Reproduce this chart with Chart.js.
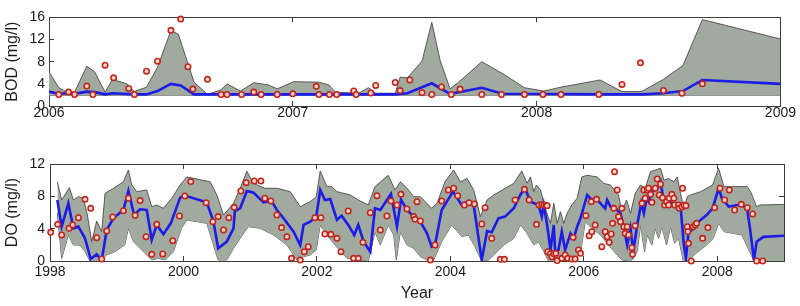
<!DOCTYPE html>
<html><head><meta charset="utf-8">
<script src="https://cdn.jsdelivr.net/npm/chart.js@4.4.0/dist/chart.umd.min.js"></script>
<style>
html,body{margin:0;padding:0;background:#fff;}
#wrap{position:relative;width:800px;height:306px;overflow:hidden;background:#fff;}
#c1{position:absolute;left:0;top:0;}
#c2{position:absolute;left:0;top:140px;}
</style></head><body>
<div id="wrap"><canvas id="c1" width="800" height="130"></canvas><canvas id="c2" width="800" height="166"></canvas></div>
<script>
// ---------- BOD panel (2006-2009) ----------
const bodXTicks = [2006, 2007, 2008, 2009];
const bodYTicks = [0, 4, 8, 12, 16];
const bodUpperYears = [2006.00,2006.04,2006.07,2006.105,2006.155,2006.187,2006.23,2006.26,2006.32,2006.35,2006.40,2006.445,2006.50,2006.53,2006.595,2006.65,2006.705,2006.73,2006.785,2006.84,2006.90,2006.936,2007.005,2007.107,2007.148,2007.175,2007.27,2007.31,2007.34,2007.42,2007.44,2007.47,2007.53,2007.57,2007.605,2007.645,2007.68,2007.775,2007.87,2007.95,2008.03,2008.10,2008.26,2008.35,2008.43,2008.52,2008.60,2008.68,2009.00];
const bodUpper = [6.2,3.3,2.6,2.5,7.2,6.2,2.5,4.8,4.0,2.6,3.4,7.0,13.6,13.0,4.3,2.1,2.9,4.0,2.7,4.2,3.8,3.1,4.4,4.3,3.8,2.5,2.3,3.3,2.3,2.3,5.2,5.1,8.1,15.1,8.1,3.1,4.3,8.0,5.6,3.3,2.7,3.4,4.7,2.6,2.6,4.8,7.3,15.6,12.1];
const bodLowerYears = [2006.00, 2009.00];
const bodLower = [1.95, 1.95];
const bodMedianYears = [2006.00,2006.04,2006.07,2006.105,2006.155,2006.187,2006.23,2006.26,2006.35,2006.40,2006.445,2006.50,2006.54,2006.595,2007.42,2007.47,2007.57,2007.645,2007.775,2007.86,2008.30,2008.43,2008.52,2008.60,2008.68,2009.00];
const bodMedian = [2.6,2.2,2.3,2.2,2.6,2.5,2.1,2.3,2.1,2.1,2.7,4.0,3.7,2.1,2.1,2.3,4.1,2.2,3.3,2.2,2.1,2.1,2.3,2.7,4.7,4.0];
const bodObsYears = [2006.04,2006.08,2006.105,2006.155,2006.18,2006.23,2006.265,2006.327,2006.35,2006.40,2006.445,2006.50,2006.54,2006.57,2006.59,2006.65,2006.706,2006.73,2006.79,2006.84,2006.87,2006.936,2007.00,2007.096,2007.107,2007.15,2007.18,2007.25,2007.26,2007.32,2007.34,2007.42,2007.44,2007.48,2007.53,2007.57,2007.61,2007.65,2007.686,2007.775,2007.856,2007.95,2008.026,2008.10,2008.255,2008.35,2008.426,2008.52,2008.596,2008.68];
const bodObs = [2.08,2.51,2.08,3.6,2.08,7.38,5.08,3.17,2.08,6.28,8.09,13.66,15.7,7.1,3.06,4.81,2.08,2.08,2.08,2.51,2.08,2.08,2.19,3.55,2.08,2.08,2.08,2.73,2.08,2.35,3.72,4.26,2.79,4.7,2.4,2.08,3.44,2.08,3.06,2.08,2.08,2.08,2.08,2.08,2.08,3.9,7.8,2.8,2.3,4.0];

// ---------- DO panel (1998-2009) ----------
const doXTicks = [1998, 2000, 2002, 2004, 2006, 2008];
const doYTicks = [0, 4, 8, 12];
const doMedianYears = [1998.11,1998.175,1998.275,1998.35,1998.425,1998.525,1998.61,1998.70,1998.775,1998.85,1998.95,1999.10,1999.175,1999.26,1999.35,1999.45,1999.525,1999.60,1999.70,1999.81,1999.95,2000.02,2000.35,2000.45,2000.52,2000.65,2000.75,2000.77,2000.85,2000.95,2001.05,2001.20,2001.32,2001.40,2001.52,2001.65,2001.75,2001.80,2001.90,2001.99,2002.05,2002.12,2002.20,2002.30,2002.37,2002.47,2002.56,2002.62,2002.70,2002.80,2002.87,2002.95,2003.11,2003.20,2003.26,2003.35,2003.45,2003.55,2003.65,2003.72,2003.77,2003.87,2004.04,2004.17,2004.27,2004.35,2004.47,2004.55,2004.62,2004.72,2004.82,2004.95,2005.05,2005.12,2005.20,2005.32,2005.37,2005.40,2005.45,2005.50,2005.55,2005.57,2005.62,2005.67,2005.72,2005.80,2005.85,2005.90,2005.95,2006.05,2006.12,2006.19,2006.25,2006.32,2006.35,2006.40,2006.47,2006.55,2006.60,2006.65,2006.70,2006.74,2006.80,2006.86,2006.90,2006.94,2006.97,2007.02,2007.10,2007.15,2007.19,2007.25,2007.35,2007.45,2007.50,2007.53,2007.57,2007.62,2007.69,2007.84,2007.93,2008.02,2008.07,2008.17,2008.37,2008.45,2008.49,2008.55,2008.59,2008.69,2009.00];
const doMedian = [7.55,4.25,7.14,4.04,4.25,2.8,0.25,0.83,0.12,3.84,5.28,6.31,8.7,5.69,6.4,6.31,2.6,4.46,3.3,4.66,7.84,8.09,7.26,4.87,1.57,2.4,4.04,6.19,6.52,8.66,8.46,7.26,7.43,6.31,5.07,3.63,1.98,4.46,4.87,5.49,8.79,7.55,7.67,5.07,5.61,4.46,3.22,4.46,2.39,1.15,6.52,6.31,8.3,4.25,7.6,6.31,5.49,4.87,3.42,1.77,1.98,6.31,8.58,6.93,7.43,6.93,0.12,3.71,3.55,5.28,5.49,6.52,8.2,9.0,7.34,6.93,5.49,6.93,4.46,1.36,4.46,1.15,1.36,3.63,1.36,3.42,2.8,4.25,5.28,8.17,7.55,7.76,7.14,6.52,7.55,6.72,6.52,5.9,4.04,1.98,4.04,1.15,4.46,7.14,5.9,7.76,7.34,8.58,9.0,9.82,7.76,7.34,7.14,6.72,1.98,0.33,3.63,3.84,4.66,5.69,6.52,9.0,7.76,6.72,7.02,6.31,4.04,0.12,2.39,2.99,3.13];
const doUpperYears = [1998.11,1998.175,1998.29,1998.35,1998.43,1998.50,1998.56,1998.625,1998.70,1998.775,1998.825,1998.95,1999.10,1999.175,1999.225,1999.30,1999.45,1999.525,1999.60,1999.70,1999.825,1999.95,2000.05,2000.40,2000.50,2000.60,2000.75,2000.85,2000.95,2001.05,2001.22,2001.40,2001.60,2001.75,2001.90,2001.99,2002.05,2002.15,2002.22,2002.30,2002.50,2002.62,2002.77,2002.87,2003.07,2003.17,2003.25,2003.35,2003.45,2003.55,2003.72,2003.80,2003.92,2004.05,2004.15,2004.25,2004.35,2004.45,2004.55,2004.65,2004.95,2005.07,2005.15,2005.20,2005.25,2005.29,2005.35,2005.43,2005.50,2005.55,2005.60,2005.65,2005.70,2005.75,2005.82,2005.90,2005.97,2006.05,2006.20,2006.30,2006.40,2006.52,2006.57,2006.64,2006.70,2006.77,2006.85,2006.92,2007.00,2007.15,2007.20,2007.27,2007.35,2007.40,2007.45,2007.50,2007.55,2007.60,2007.75,2007.93,2008.02,2008.10,2008.45,2008.50,2008.59,2008.64,2009.00];
const doUpper = [9.8,7.55,9.07,7.55,7.96,7.76,5.69,2.39,4.95,3.63,8.37,8.99,9.8,11.26,9.4,8.58,8.79,6.72,6.93,6.52,7.76,9.4,10.4,9.8,8.17,5.69,7.14,8.99,11.1,9.6,9.0,9.0,8.58,6.72,7.34,7.96,11.14,9.2,9.2,8.58,8.17,7.55,6.93,9.2,10.6,8.79,9.8,9.0,7.96,7.96,6.52,7.14,9.8,11.26,9.8,10.2,8.79,5.49,7.55,8.17,9.6,11.14,9.6,10.4,8.58,9.4,8.79,6.31,4.66,7.14,4.66,6.1,4.66,5.9,6.93,7.76,10.4,10.6,10.4,9.6,9.4,8.17,6.1,7.55,5.9,8.37,9.4,9.0,11.05,11.47,10.0,10.2,9.8,10.4,8.37,6.31,7.96,8.17,8.58,9.4,11.47,9.2,9.2,8.58,6.72,6.93,7.0];
const doLowerYears = [1998.11,1998.175,1998.275,1998.35,1998.45,1998.525,1998.60,1998.75,1998.85,1998.97,1999.12,1999.175,1999.25,1999.45,1999.525,1999.625,1999.725,1999.85,1999.97,2000.05,2000.35,2000.45,2000.52,2000.65,2000.75,2000.85,2000.97,2001.15,2001.35,2001.55,2001.70,2001.80,2001.90,2001.99,2002.05,2002.15,2002.27,2002.45,2002.65,2002.77,2002.87,2002.95,2003.07,2003.15,2003.19,2003.25,2003.35,2003.45,2003.55,2003.65,2003.75,2003.87,2004.02,2004.17,2004.27,2004.37,2004.47,2004.57,2004.65,2004.80,2004.95,2005.05,2005.15,2005.25,2005.32,2005.40,2005.47,2005.85,2005.95,2006.02,2006.12,2006.25,2006.37,2006.50,2006.57,2006.70,2006.80,2006.85,2006.91,2006.95,2007.02,2007.07,2007.12,2007.17,2007.24,2007.30,2007.36,2007.42,2007.49,2007.57,2007.65,2007.84,2007.94,2008.02,2008.10,2008.37,2008.55,2009.00];
const doLower = [6.0,0.33,3.22,1.98,1.98,1.15,0,0,0.74,1.15,1.98,4.04,2.39,0.74,0.12,0.33,0.12,1.15,4.04,5.07,4.66,1.98,0.12,0.12,1.57,2.8,4.25,4.04,3.22,1.98,0.12,0.54,0.74,1.36,4.46,3.22,1.98,0.33,0.12,0,3.63,1.98,4.46,3.22,0.12,3.63,1.98,1.57,0.54,0.12,0.12,2.39,4.46,3.01,3.22,1.77,0,0.12,0.74,1.98,2.8,4.46,3.42,1.98,2.39,1.15,0,0.12,0.95,4.87,4.04,3.22,1.98,0.74,0.12,0,1.15,4.46,1.15,3.22,1.98,4.04,2.8,4.25,1.98,4.25,2.19,2.8,0,0,0.74,1.98,2.8,4.66,3.63,3.22,0,0];
const doObsYears = [1998.01,1998.115,1998.175,1998.285,1998.34,1998.425,1998.525,1998.61,1998.70,1998.775,1998.85,1998.94,1999.10,1999.175,1999.275,1999.35,1999.44,1999.525,1999.60,1999.69,1999.84,1999.94,2000.02,2000.11,2000.34,2000.44,2000.52,2000.60,2000.68,2000.76,2000.86,2000.94,2001.06,2001.16,2001.22,2001.31,2001.40,2001.47,2001.55,2001.62,2001.75,2001.81,2001.87,2001.97,2002.06,2002.12,2002.21,2002.30,2002.36,2002.47,2002.55,2002.62,2002.69,2002.80,2002.90,2002.95,2003.05,2003.11,2003.20,2003.26,2003.35,2003.45,2003.47,2003.50,2003.55,2003.70,2003.77,2003.87,2003.97,2004.05,2004.11,2004.21,2004.28,2004.36,2004.47,2004.52,2004.62,2004.75,2004.81,2004.97,2005.11,2005.18,2005.29,2005.33,2005.37,2005.40,2005.43,2005.45,2005.46,2005.50,2005.52,2005.55,2005.58,2005.60,2005.67,2005.72,2005.76,2005.82,2005.84,2005.87,2005.92,2005.95,2006.03,2006.08,2006.11,2006.12,2006.17,2006.19,2006.27,2006.32,2006.35,2006.38,2006.41,2006.43,2006.45,2006.46,2006.50,2006.52,2006.55,2006.57,2006.60,2006.62,2006.65,2006.67,2006.72,2006.73,2006.77,2006.87,2006.90,2006.92,2006.95,2006.97,2007.00,2007.02,2007.07,2007.10,2007.13,2007.15,2007.18,2007.21,2007.24,2007.27,2007.28,2007.32,2007.35,2007.36,2007.42,2007.43,2007.47,2007.48,2007.50,2007.53,2007.55,2007.56,2007.57,2007.61,2007.64,2007.67,2007.69,2007.78,2007.86,2007.96,2008.04,2008.11,2008.18,2008.26,2008.36,2008.45,2008.53,2008.59,2008.68];
const doObs = [3.55,4.54,3.22,4.04,4.46,5.36,7.63,6.52,2.89,0.25,3.71,5.45,6.23,7.76,5.65,7.47,3.01,0.82,4.54,0.87,2.52,5.57,8.04,9.82,7.22,4.87,5.49,3.84,5.36,6.64,8.66,9.69,9.9,9.9,7.76,7.43,5.69,4.13,3.01,0.33,0.12,1.15,1.77,5.36,5.36,3.34,3.3,2.8,1.15,6.19,0.33,0.33,2.31,5.98,8.08,3.84,5.57,7.43,6.93,8.25,6.44,5.49,5.16,7.34,4.95,0.12,1.98,7.43,8.79,9.0,8.08,6.93,7.22,7.05,4.58,6.6,2.8,0.21,0.21,7.55,8.87,7.55,4.54,6.93,6.97,6.93,6.9,6.85,1.15,0.9,0.54,0.9,0.95,0.05,0.33,0.74,0.33,0.25,2.93,0.25,1.36,0.95,5.61,3.13,7.34,3.63,4.46,7.63,1.77,3.63,3.01,2.31,3.34,4.66,6.52,11.05,8.79,5.49,4.87,6.52,4.25,3.42,4.25,3.22,1.65,0.82,4.37,7.14,8.79,7.76,8.79,9.0,8.25,7.26,9.0,10.15,8.17,9.5,7.84,6.93,7.34,6.93,7.76,8.25,7.76,6.93,6.93,6.52,6.72,9.0,6.93,6.85,4.25,3.63,2.19,0.0,4.25,4.46,4.66,2.8,4.13,6.6,9.0,7.55,8.79,6.31,7.01,6.6,5.82,0.0,0.0];

// ---------- drawing ----------
const FONT = "'Liberation Sans', Arial, Helvetica, sans-serif";
const AXIS = '#3c3c3c';
const TXT = '#1a1a1a';
const pts = (xs, ys) => xs.map((x, i) => ({x: x, y: ys[i]}));

function xScale(c, pos) {
  const bottom = pos === 'bottom';
  return {
    type: 'linear', position: pos, min: c.xMin, max: c.xMax,
    afterBuildTicks: s => { s.ticks = c.xTicks.map(v => ({value: v})); },
    afterFit: s => { s.height = bottom ? c.xAxisH : 0; },
    grid: {drawOnChartArea: false, drawTicks: true, tickLength: -5, color: AXIS, lineWidth: 1},
    border: {display: true, color: AXIS, width: 1},
    ticks: {display: bottom, padding: c.xPad, color: TXT, font: {family: FONT, size: 14},
            maxRotation: 0, autoSkip: false, callback: v => String(v)},
    title: (bottom && c.xTitle) ? {display: true, text: c.xTitle, color: TXT,
            font: {family: FONT, size: 16}, padding: {top: 0, bottom: 3}} : {display: false}
  };
}
function yScale(c, pos) {
  const left = pos === 'left';
  return {
    type: 'linear', position: pos, min: c.yMin, max: c.yMax,
    afterBuildTicks: s => { s.ticks = c.yTicks.map(v => ({value: v})); },
    afterFit: s => { s.width = left ? c.yAxisW : 0; },
    grid: {drawOnChartArea: false, drawTicks: true, tickLength: -5, color: AXIS, lineWidth: 1},
    border: {display: true, color: AXIS, width: 1},
    ticks: {display: left, padding: c.yPad, color: TXT, font: {family: FONT, size: 14},
            callback: v => String(v)},
    title: left ? {display: true, text: c.yTitle, color: TXT,
            font: {family: FONT, size: 16}, padding: {top: 3, bottom: 0}} : {display: false}
  };
}

function panel(id, c) {
  new Chart(document.getElementById(id), {
    type: 'line',
    data: {datasets: [
      {label: 'observed', data: pts(c.obsX, c.obsY), showLine: false, pointStyle: 'circle',
       pointRadius: 2.7, pointBorderWidth: 1.6, pointBorderColor: '#c0261d',
       pointBackgroundColor: 'rgba(250,215,205,0.95)', clip: false},
      {label: 'median', data: pts(c.medX, c.medY), borderColor: '#1c1ce8', borderWidth: 2.6,
       pointRadius: 0, tension: 0, fill: false},
      {label: 'upper', data: pts(c.upX, c.upY), borderColor: '#4a4a4a', borderWidth: 0.9,
       pointRadius: 0, tension: 0, fill: '+1', backgroundColor: 'rgb(161,170,158)'},
      {label: 'lower', data: pts(c.loX, c.loY), borderColor: '#4a4a4a', borderWidth: 0.9,
       pointRadius: 0, tension: 0, fill: false}
    ]},
    options: {
      responsive: false, animation: false, events: [],
      layout: {padding: {top: c.padTop, right: c.padRight, bottom: 0, left: 0}},
      plugins: {legend: {display: false}, tooltip: {enabled: false}},
      scales: {x: xScale(c, 'bottom'), xTop: xScale(c, 'top'), y: yScale(c, 'left'), yRight: yScale(c, 'right')}
    }
  });
}

panel('c1', {
  xMin: 2006, xMax: 2009, xTicks: bodXTicks, yMin: 0, yMax: 16, yTicks: bodYTicks,
  yTitle: 'BOD (mg/l)', xTitle: null,
  padTop: 8, padRight: 17, xAxisH: 24, yAxisW: 49, xPad: 4, yPad: 9,
  obsX: bodObsYears, obsY: bodObs, medX: bodMedianYears, medY: bodMedian,
  upX: bodUpperYears, upY: bodUpper, loX: bodLowerYears, loY: bodLower
});
panel('c2', {
  xMin: 1998, xMax: 2009, xTicks: doXTicks, yMin: 0, yMax: 12, yTicks: doYTicks,
  yTitle: 'DO (mg/l)', xTitle: 'Year',
  padTop: 24, padRight: 16, xAxisH: 45, yAxisW: 50, xPad: 8, yPad: 10,
  obsX: doObsYears, obsY: doObs, medX: doMedianYears, medY: doMedian,
  upX: doUpperYears, upY: doUpper, loX: doLowerYears, loY: doLower
});
</script>
</body></html>
